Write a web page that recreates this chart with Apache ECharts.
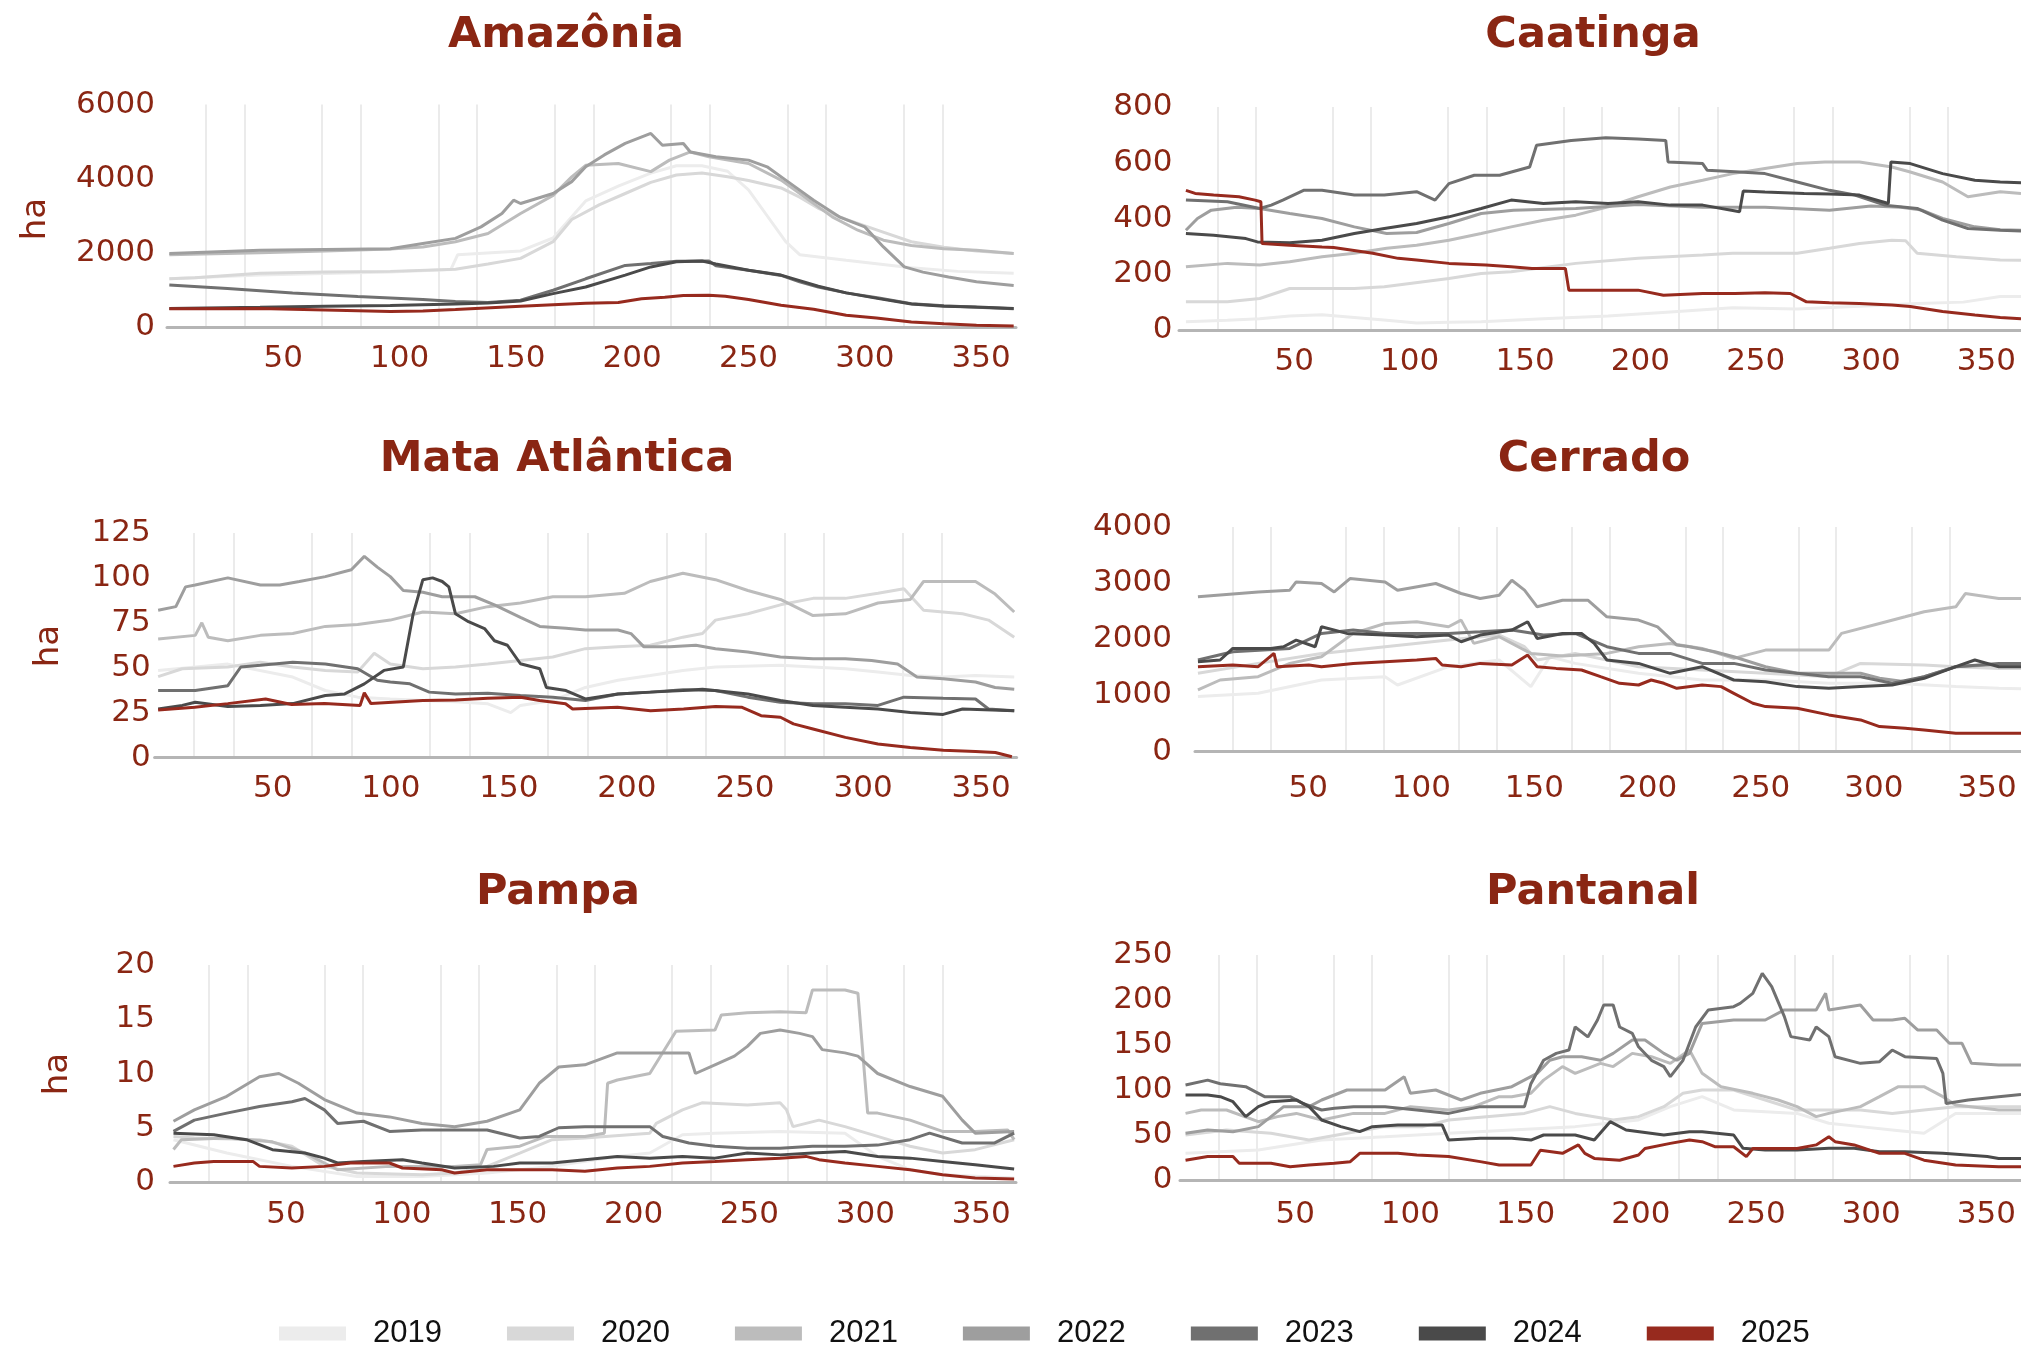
<!DOCTYPE html>
<html>
<head>
<meta charset="utf-8">
<title>Biomas</title>
<script src="https://cdn.jsdelivr.net/npm/echarts@6/dist/echarts.min.js"></script>
<style>
  html, body { margin: 0; padding: 0; background: #fff; }
  #chart { width: 2021px; height: 1350px; }
</style>
</head>
<body>
<div id="chart"></div>
<script>
// anos e cores
const years = ['2019', '2020', '2021', '2022', '2023', '2024', '2025'];
const yearColors = ['#ececec', '#d8d8d8', '#bcbcbc', '#9e9e9e', '#707070', '#4a4a4a', '#972a1e'];

// ---- Amazônia (ha) : [dia, valor]
const amz2019 = [[1,1300],[40,1400],[96,1480],[122,1550],[125,1950],[152,2050],[166,2400],[180,3400],[194,3800],[208,4150],[219,4350],[230,4350],[241,4200],[250,3700],[258,3000],[266,2300],[272,1950],[292,1800],[306,1700],[320,1600],[340,1500],[364,1450]];
const amz2020 = [[1,1300],[12,1330],[40,1450],[68,1480],[96,1500],[124,1560],[138,1700],[152,1850],[166,2300],[174,2900],[186,3300],[197,3600],[208,3900],[219,4100],[230,4150],[241,4050],[250,3950],[264,3750],[272,3500],[280,3200],[292,2900],[306,2600],[320,2300],[334,2150],[348,2050],[364,1980]];
const amz2021 = [[1,1950],[40,2000],[68,2050],[96,2100],[110,2160],[124,2300],[138,2520],[152,3060],[166,3550],[174,4050],[180,4360],[194,4410],[208,4190],[216,4500],[225,4720],[233,4590],[250,4410],[264,3960],[286,2970],[297,2610],[308,2340],[320,2200],[334,2110],[348,2070],[364,1980]];
const amz2022 = [[1,1980],[40,2070],[68,2090],[96,2110],[110,2250],[124,2390],[135,2700],[144,3060],[149,3420],[152,3330],[166,3600],[174,3920],[180,4320],[188,4640],[197,4950],[208,5220],[213,4900],[222,4950],[225,4720],[236,4590],[250,4500],[258,4320],[266,3960],[278,3420],[289,2970],[300,2700],[308,2160],[317,1620],[325,1480],[336,1350],[348,1220],[364,1120]];
const amz2023 = [[1,1130],[26,1040],[54,920],[82,820],[110,740],[124,690],[138,660],[152,720],[166,990],[180,1300],[197,1660],[208,1710],[219,1770],[233,1780],[236,1650],[250,1530],[264,1390],[272,1220],[280,1080],[292,920],[306,780],[320,630],[334,570],[348,530],[364,490]];
const amz2024 = [[1,500],[40,530],[68,560],[96,580],[124,620],[138,650],[152,700],[166,900],[180,1080],[197,1400],[208,1620],[219,1760],[230,1780],[236,1700],[250,1530],[264,1400],[272,1250],[280,1100],[292,920],[306,765],[320,620],[334,560],[348,540],[364,500]];
const amz2025 = [[1,495],[40,500],[68,460],[96,420],[110,430],[124,470],[152,560],[180,640],[194,660],[204,760],[214,800],[222,850],[233,855],[240,830],[250,740],[264,585],[278,480],[292,315],[305,240],[320,135],[334,90],[348,50],[364,30]];

// ---- Caatinga
const caa2019 = [[3,30],[21,35],[35,40],[48,50],[62,55],[76,45],[90,35],[103,25],[117,28],[131,30],[158,40],[186,50],[213,65],[240,80],[268,75],[295,85],[320,95],[340,100],[356,120],[365,120]];
const caa2020 = [[3,101],[21,101],[35,113],[48,149],[76,149],[89,155],[117,185],[131,203],[144,209],[172,239],[199,257],[227,269],[240,275],[268,275],[282,293],[295,310],[309,322],[315,320],[320,275],[337,263],[356,251],[365,250]];
const caa2021 = [[3,227],[21,239],[35,233],[48,245],[62,263],[76,275],[90,293],[103,304],[117,322],[131,346],[144,370],[158,394],[172,412],[186,442],[199,478],[213,513],[227,537],[240,561],[254,579],[268,597],[280,603],[295,603],[309,585],[317,567],[331,531],[342,478],[356,496],[365,490]];
const caa2022 = [[3,358],[8,400],[14,430],[25,440],[35,436],[48,418],[62,400],[76,370],[90,346],[103,350],[117,382],[131,418],[145,430],[172,436],[199,450],[227,440],[254,440],[282,430],[300,445],[313,440],[322,430],[331,400],[345,370],[356,360],[365,358]];
const caa2023 = [[3,466],[21,460],[35,436],[40,448],[45,466],[54,501],[62,501],[76,484],[89,484],[103,496],[111,466],[117,525],[128,555],[139,555],[152,585],[155,663],[170,680],[185,690],[199,685],[211,680],[212,603],[227,597],[229,573],[243,567],[254,561],[268,531],[282,501],[293,484],[306,448],[320,436],[331,394],[342,364],[356,358],[365,355]];
const caa2024 = [[3,346],[15,340],[29,328],[34,316],[48,313],[62,322],[76,346],[89,364],[103,382],[117,406],[131,436],[144,466],[158,454],[172,460],[186,454],[199,460],[213,448],[227,448],[243,424],[244.6,499],[254,495],[271,490],[282,488],[295,484],[307.5,454],[308.6,603],[317,597],[331,561],[345,537],[356,531],[365,528]];
const caa2025 = [[3,501],[7,490],[15,484],[26,478],[33,466],[35.5,460],[36,310],[48,304],[62,298],[67,296],[84,275],[95,257],[103,251],[117,239],[133,233],[144,227],[153,221],[167.5,221],[169,143],[183,143],[199,143],[210,125],[227,131],[241,131],[254,134],[265,131],[272,101],[282,98],[295,95],[309,90],[317,84],[331,66],[345,54],[356,45],[365,40]];

// ---- Mata Atlântica
const mat2019 = [[1.5,48.5],[31,52],[58.5,44.8],[72.3,37.3],[86,33.6],[99.8,32.6],[113.6,31.7],[127.4,31],[141.1,29.9],[150.8,25],[154.9,29],[168.6,31.7],[182.4,39],[196.2,43],[209.9,45.7],[223.7,48.5],[237.5,50.4],[265,51.3],[278.8,50.4],[292.5,49.4],[306.3,47.6],[320,45.7],[333.9,44.8],[347.6,45.7],[364,44.8]];
const mat2020 = [[1.5,45],[11.7,49.4],[31,50.4],[44.8,53],[58.5,50.4],[72.3,48.5],[86,47.6],[93,58],[99.8,52],[113.6,49.4],[127.4,50.4],[141.1,52],[154.9,54],[168.6,56],[182.4,60.6],[196.2,61.6],[209.9,62.5],[223.7,67],[232,69],[237.5,76.5],[251.2,80],[265,85],[278.8,88.6],[292.5,88.6],[306.3,91.4],[317.3,94],[325.6,82],[342.1,80],[353.1,76.5],[364,67]];
const mat2021 = [[1.5,66],[17.2,68],[20,75],[22.7,67],[31,65],[44.8,68],[58.5,69],[72.3,73],[86,74],[99.8,76.5],[113.6,81],[127.4,80],[141.1,84],[154.9,86],[168.6,89.5],[182.4,89.5],[198.9,91.4],[209.9,98],[223.7,102.6],[237.5,99],[251.2,93],[265,88],[278.8,79],[292.5,80],[306.3,86],[320,88],[325.6,98],[333.9,98],[347.6,98],[355.9,91],[364,81]];
const mat2022 = [[1.5,82],[9,84],[13.1,95],[17.2,96],[31,100],[44.8,96],[53,96],[61.3,98],[72.3,100.7],[83.3,104.5],[88.8,112],[94.3,106],[99.8,100.7],[105.3,93],[113.6,92],[121.8,89.5],[135.6,89.5],[143.9,85],[154.9,78],[163.1,73],[174.2,72],[182.4,71],[196.2,71],[201.7,69],[207.2,61.6],[218.2,61.6],[229.2,62.5],[237.5,60.6],[251.2,58.8],[265,56],[278.8,55],[292.5,55],[303.6,54],[314.6,52],[322.8,44.8],[333.9,43.8],[347.6,42],[355.9,39],[364,38]];
const mat2023 = [[1.5,37.3],[17.2,37.3],[31,40],[36.5,50.4],[44.8,51.3],[58.5,53],[72.3,52],[86,49.4],[94.3,43],[99.8,42],[108.1,41],[116.3,36.4],[127.4,35.4],[141.1,35.8],[154.9,34.5],[168.6,33.6],[182.4,31.7],[196.2,35.4],[209.9,36.4],[223.7,37.7],[237.5,37.3],[251.2,33.6],[265,30.8],[278.8,29.9],[292.5,29.9],[306.3,29],[317.3,33.6],[333.9,33],[347.6,32.6],[353.1,27],[364,26]];
const mat2024 = [[1.5,27],[11.7,29],[17.2,30.8],[31,28.4],[44.8,29],[58.5,30],[72.3,34.5],[80.5,35.4],[88.8,41],[97.1,48.5],[105.3,50.4],[109.5,80],[113.6,99],[117.7,100],[121.8,98],[124.6,95],[127.4,80],[132.9,75.6],[139.7,71.8],[143.9,65],[149.4,62.5],[154.9,52.2],[163.1,49.4],[165.9,39],[174.2,37.3],[182.4,32.6],[196.2,35.4],[209.9,36.4],[223.7,37.3],[232,38],[251.2,35.4],[265,31.7],[278.8,29],[292.5,28],[306.3,27],[320,25],[333.9,24],[342.1,27],[364,26]];
const mat2025 = [[1.5,26.5],[17,28],[31,30],[47,32.6],[58,29.5],[72,30],[87,29],[88.8,36],[91.6,30],[113.6,31.7],[127.4,32],[141,33],[155,33.6],[163,31.7],[174,29.9],[177,27],[196,28],[210,26],[224,27],[237.5,28.4],[248.5,28],[256.8,23.3],[265,22.4],[270.5,18.7],[278.8,15.9],[292.5,11.2],[306.3,7.5],[320,5.6],[334,4.1],[347.6,3.4],[356,2.8],[363,0.4]];

// ---- Cerrado
const cer2019 = [[1.3,978],[27.9,1037],[55.9,1274],[84,1333],[89.5,1185],[112,1511],[134.4,1630],[148.4,1156],[156.8,1689],[168,1570],[196,1393],[224.1,1274],[252.1,1274],[280.1,1215],[308.1,1215],[336.2,1156],[355.2,1126],[365,1120]];
const cer2020 = [[1.3,1393],[27.9,1570],[55.9,1748],[84,1867],[112,1985],[134.4,2074],[145.6,1867],[151.2,1630],[168,1748],[196,1511],[224.1,1452],[252.1,1393],[280.1,1333],[294.1,1570],[322.2,1541],[336.2,1511],[355.2,1481],[365,1481]];
const cer2021 = [[1.3,1096],[11.1,1274],[27.9,1333],[41.9,1570],[55.9,1689],[69.9,2104],[84,2281],[98,2311],[112,2222],[117.6,2341],[123.2,1926],[134.4,2044],[148.4,1748],[162.4,1700],[182,1748],[196,1867],[210,1926],[224.1,1837],[238.1,1659],[252.1,1807],[280.1,1807],[285.7,2104],[302.5,2281],[313.8,2400],[322.2,2489],[336.2,2578],[340.4,2815],[355.2,2726],[365,2726]];
const cer2022 = [[1.3,2756],[27.9,2844],[41.9,2874],[44.7,3022],[55.9,2993],[61.5,2844],[68.5,3081],[84,3022],[89.5,2874],[106.4,2993],[117.6,2815],[126,2726],[134.4,2785],[140,3052],[145.6,2874],[151.2,2578],[162.4,2696],[173.6,2696],[182,2400],[196,2341],[204.4,2222],[212.9,1896],[218.5,1867],[229.7,1778],[238.1,1689],[252.1,1511],[266.1,1393],[294.1,1393],[302.5,1304],[313.8,1244],[322.2,1333],[336.2,1511],[355.2,1550],[365,1550]];
const cer2023 = [[1.3,1630],[16.7,1778],[41.9,1837],[55.9,2104],[69.9,2163],[84,2104],[112,2104],[126,2133],[140,2163],[154,2074],[168,2104],[182,1867],[196,1748],[210,1748],[224.1,1570],[238.1,1570],[252.1,1452],[266.1,1393],[280.1,1333],[294.1,1333],[308.1,1215],[322.2,1333],[336.2,1511],[355.2,1570],[365,1570]];
const cer2024 = [[1.3,1600],[11.1,1630],[16.7,1837],[33.5,1837],[39.1,1867],[44.7,1985],[53.1,1867],[55.9,2222],[67.1,2104],[84,2074],[98,2044],[112,2074],[117.6,1956],[126,2074],[140,2163],[147,2311],[151.2,2015],[162.4,2104],[170.8,2104],[176.4,1926],[182,1630],[196,1570],[210,1393],[224.1,1511],[238.1,1274],[252.1,1244],[266.1,1156],[280.1,1126],[294.1,1156],[308.1,1185],[322.2,1304],[336.2,1511],[344.6,1630],[355.2,1511],[365,1511]];
const cer2025 = [[1.3,1511],[16.7,1541],[27.9,1511],[34.9,1748],[36.3,1511],[50.3,1541],[55.9,1511],[69.9,1570],[84,1600],[98,1630],[106.4,1659],[109.2,1541],[117.6,1511],[126,1570],[140,1541],[147,1718],[151.2,1511],[159.6,1481],[170.8,1452],[179.2,1333],[187.6,1215],[196,1185],[201.6,1274],[207.2,1215],[212.9,1126],[224.1,1185],[232.5,1156],[238.1,1037],[246.5,859],[252.1,800],[266.1,770],[280.1,652],[294.1,563],[302.5,444],[313.8,415],[322.2,385],[336.2,326],[355.2,326],[365,326]];

// ---- Pampa
const pam2019 = [[1.5,3.9],[24.5,2.67],[52.6,1.44],[80.7,0.5],[108.7,0.5],[136.8,0.83],[164.9,1.44],[193,2.36],[207,2.67],[221.1,4.36],[235.1,4.5],[263.2,4.66],[291.2,4.5],[305.3,2.36],[319.3,1.13],[333.3,0.67],[364.2,0.37]];
const pam2020 = [[1.5,4.2],[10.5,4.05],[38.6,3.9],[52.6,3.3],[66.6,1.44],[80.7,0.83],[108.7,0.67],[122.8,0.83],[136.8,1.44],[150.9,2.67],[164.9,3.9],[179,4.05],[207,4.5],[209.8,5.4],[221.1,6.65],[229.5,7.3],[249.1,7.1],[263.2,7.3],[266,6.65],[268.8,5.1],[280,5.7],[291.2,5.1],[305.3,4.2],[319.3,3.3],[333.3,2.67],[347.4,2.98],[364.2,3.9]];
const pam2021 = [[1.5,3],[4.9,3.9],[24.5,4.05],[44.2,3.7],[58.2,2.67],[72.3,1.13],[94.7,1.44],[122.8,1.44],[134,1.6],[136.8,3],[150.9,3.3],[162.1,4.2],[179,4.2],[187.4,4.5],[188.8,9.1],[193,9.4],[207,10],[218.3,13.9],[235.1,14],[237.9,15.4],[249.1,15.6],[263.2,15.7],[274.4,15.6],[277.2,17.7],[291.2,17.7],[296.8,17.4],[301,6.35],[305.3,6.35],[319.3,5.7],[333.3,4.66],[347.4,4.66],[361.4,4.8],[364.2,3.9]];
const pam2022 = [[1.5,5.6],[10.5,6.65],[24.5,7.9],[38.6,9.7],[47,10],[55.4,9.1],[66.6,7.6],[80.7,6.35],[94.7,6],[108.7,5.4],[122.8,5.1],[136.8,5.6],[150.9,6.65],[159.3,9.1],[167.7,10.6],[179,10.8],[193,11.9],[223.9,11.9],[226.7,10],[235.1,10.8],[243.5,11.6],[249.1,12.5],[254.7,13.7],[263.2,14],[271.6,13.7],[277.2,13.4],[281.4,12.2],[291.2,11.9],[296.8,11.6],[305.3,10],[319.3,8.8],[333.3,7.9],[341.8,5.7],[347.4,4.5],[364.2,4.66]];
const pam2023 = [[1.5,4.66],[10.5,5.7],[24.5,6.35],[38.6,6.96],[52.6,7.4],[58.2,7.7],[66.6,6.65],[72.3,5.4],[83.5,5.6],[94.7,4.66],[108.7,4.8],[136.8,4.8],[150.9,4.05],[159.3,4.2],[167.7,5],[179,5.1],[207,5.1],[212.6,4.2],[223.9,3.6],[235.1,3.3],[249.1,3.1],[263.2,3.1],[277.2,3.3],[291.2,3.3],[305.3,3.4],[319.3,3.9],[327.7,4.5],[341.8,3.6],[355.8,3.6],[364.2,4.5]];
const pam2024 = [[1.5,4.5],[18.9,4.36],[33,3.9],[44.2,2.98],[58.2,2.67],[66.6,2.2],[72.3,1.75],[83.5,1.9],[100.3,2.06],[108.7,1.75],[122.8,1.29],[139.6,1.44],[150.9,1.75],[164.9,1.75],[179,2.06],[193,2.36],[207,2.2],[221.1,2.36],[235.1,2.2],[249.1,2.67],[263.2,2.5],[277.2,2.67],[291.2,2.82],[305.3,2.36],[319.3,2.2],[333.3,1.9],[347.4,1.6],[364.2,1.2]];
const pam2025 = [[1.5,1.44],[10.5,1.75],[18.9,1.9],[35.8,1.9],[38.6,1.44],[52.6,1.29],[66.6,1.44],[77.9,1.75],[94.7,1.75],[100.3,1.29],[117.2,1.13],[122.8,0.83],[136.8,1.13],[164.9,1.13],[179,0.98],[193,1.29],[207,1.44],[221.1,1.75],[235.1,1.9],[249.1,2.06],[263.2,2.2],[274.4,2.36],[280,2.06],[291.2,1.75],[305.3,1.44],[319.3,1.13],[333.3,0.67],[347.4,0.37],[364.2,0.28]];

// ---- Pantanal
const pan2019 = [[2.4,29.6],[34,33.3],[61.5,44.4],[89,48],[116.6,51.9],[144,55.6],[171.5,59.3],[199,66.7],[212.8,81.5],[226.6,92.6],[240.3,77.8],[267.8,74],[281.6,63],[295.3,59.3],[309.1,55.6],[322.9,51.9],[336.6,74],[355.3,74],[365,74]];
const pan2020 = [[2.4,50],[20.2,55.6],[39.5,51.9],[56,44.4],[72.5,51.9],[89,59.3],[105.5,59.3],[116.6,66.7],[133,70.4],[149.5,74],[160.5,81.5],[171.5,74],[188,66.7],[199,70.4],[210,81.5],[218.3,96.3],[226.6,100],[240.3,100],[254,88.9],[267.8,77.8],[281.6,77.8],[295.3,77.8],[309.1,74],[322.9,77.8],[336.6,81.5],[355.3,81.5],[365,81.5]];
const pan2021 = [[2.4,74],[9.2,77.8],[20.2,77.8],[34,64.8],[42.3,70.4],[50.5,74],[61.5,66.7],[75.3,74],[89,74],[100,81.5],[116.6,77.8],[127.5,81.5],[138.5,92.6],[144,92.6],[152.3,96.3],[157.8,111],[166,126],[171.5,118.5],[182.5,129.6],[188,126],[196.3,140.7],[204.6,137],[212.8,129.6],[221.1,144.4],[226.6,118.5],[234.8,103.7],[248.6,96.3],[259.6,88.9],[267.8,81.5],[276.1,70.4],[281.6,74],[295.3,81.5],[303.6,92.6],[311.8,103.7],[322.9,103.7],[331.1,92.6],[336.6,83.3],[355.3,77.8],[365,77.8]];
const pan2022 = [[2.4,51.9],[12,55.6],[23,53.7],[34,59.3],[45,81.5],[56,81.5],[61.5,88.9],[72.5,100],[89,100],[97.3,114.8],[100,96.3],[111,100],[122,88.9],[130.3,96.3],[144,103.7],[155,118.5],[160.5,133],[166,137],[174.3,137],[182.5,133],[188,140.7],[196.3,155.6],[201.8,155.6],[210,140.7],[215.6,133],[221.1,140.7],[226.6,174],[240.3,177.8],[254,177.8],[262.3,189],[276.1,189],[280.2,207.4],[281.6,189],[295.3,194.4],[300.8,177.8],[309.1,177.8],[314.6,179.6],[320.1,166.7],[328.4,166.7],[333.9,151.9],[339.4,151.9],[343.5,129.6],[355.3,127.8],[365,127.8]];
const pan2023 = [[2.4,105.6],[12,111],[17.5,107],[28.5,103.7],[36.7,92.6],[47.8,92.6],[53.3,85],[61.5,77.8],[67,79.6],[75.3,81.5],[89,81.5],[102.8,77.8],[116.6,74],[130.3,81.5],[149.5,81.5],[152.3,107],[157.8,133],[163.3,140.7],[168.8,144.4],[171.5,170],[177,159],[181.2,177.8],[183.9,194.4],[188,194.4],[190.8,170],[196.3,163],[199,148],[204.6,133],[210,126],[212.8,114.8],[218.3,133],[223.8,170],[229.3,189],[240.3,192.6],[243.1,196.3],[248.6,207.4],[252.7,229.6],[256.8,214.8],[262.3,181.5],[265.1,159.3],[273.3,155.6],[276.1,170],[281.6,159.3],[284.3,137],[295.3,129.6],[303.6,131.5],[309.1,144.4],[314.6,137],[328.4,135],[331.1,118.5],[332.5,85],[342.1,89],[355.3,92.6],[365,95]];
const pan2024 = [[2.4,94.4],[12,94.4],[17.5,92.6],[23,87],[28.5,70.4],[34,81.5],[39.5,87],[50.5,89],[56,81.5],[61.5,66.7],[69.8,59.3],[78,53.7],[83.5,59.3],[94.5,61],[113.8,61],[116.6,44.4],[130.3,46.3],[144,46.3],[152.3,44.4],[157.8,50],[171.5,50],[179.8,44.4],[186.7,64.8],[193.6,55.6],[210,50],[221.1,53.7],[226.6,53.7],[240.3,50],[244.4,35.2],[254,33.3],[267.8,33.3],[281.6,35.2],[292.6,35.2],[303.6,31.5],[314.6,31.5],[331.1,29.6],[350.4,26],[355.3,24],[365,24]];
const pan2025 = [[2.4,22],[12,26],[23,26],[25.7,18.5],[39.5,18.5],[47.8,14.8],[56,16.7],[67,18.5],[73.9,20.4],[78,29.6],[94.5,29.6],[102.8,27.8],[116.6,26],[130.3,20.4],[138.5,16.7],[152.3,16.7],[156.4,33],[166,29.6],[172.9,39],[175.7,29.6],[179.8,24],[190.8,22],[199,27.8],[201.8,35],[212.8,40.7],[221.1,44.4],[226.6,42.6],[232.1,37],[240.3,37],[245.8,26],[248.6,35],[267.8,35],[276.1,39],[281.6,48],[284.3,42.6],[292.6,39],[303.6,29.6],[314.6,29.6],[322.9,22],[336.6,16.7],[355.3,14.8],[365,14.8]];

// layout of the six small charts (pixels)
const panels = [
  { name: 'Amazônia', lines: [amz2019, amz2020, amz2021, amz2022, amz2023, amz2024, amz2025],
    left: 167, top: 104.5, width: 849, height: 222.5, yMax: 6000, yStep: 2000,
    axisOffset: 7, yMargin: 12, xMargin: 9, titleX: 566, titleTop: 14, ha: [36, 219] },
  { name: 'Caatinga', lines: [caa2019, caa2020, caa2021, caa2022, caa2023, caa2024, caa2025],
    left: 1179, top: 107, width: 861.5, height: 223, yMax: 800, yStep: 200,
    axisOffset: 3, yMargin: 6.5, xMargin: 13.5, titleX: 1593, titleTop: 14 },
  { name: 'Mata Atlântica', lines: [mat2019, mat2020, mat2021, mat2022, mat2023, mat2024, mat2025],
    left: 154.6, top: 533, width: 862, height: 224.5, yMax: 125, yStep: 25,
    axisOffset: 0.5, yMargin: 4, xMargin: 15.5, titleX: 557, titleTop: 438, ha: [49, 646] },
  { name: 'Cerrado', lines: [cer2019, cer2020, cer2021, cer2022, cer2023, cer2024, cer2025],
    left: 1195, top: 527, width: 848, height: 224.5, yMax: 4000, yStep: 1000,
    axisOffset: 6.5, yMargin: 23, xMargin: 15.5, titleX: 1594, titleTop: 438 },
  { name: 'Pampa', lines: [pam2019, pam2020, pam2021, pam2022, pam2023, pam2024, pam2025],
    left: 170, top: 965, width: 846, height: 217, yMax: 20, yStep: 5,
    axisOffset: 1, yMargin: 15, xMargin: 16.5, titleX: 558, titleTop: 871, ha: [58, 1074] },
  { name: 'Pantanal', lines: [pan2019, pan2020, pan2021, pan2022, pan2023, pan2024, pan2025],
    left: 1180, top: 955, width: 864, height: 225, yMax: 250, yStep: 50,
    axisOffset: 3, yMargin: 7.5, xMargin: 16.5, titleX: 1593, titleTop: 871 }
];

const red = '#8a2613';
const axisFont = 'DejaVu Sans';

var myChart = echarts.init(document.getElementById('chart'), null, { renderer: 'canvas' });

var series = [];
panels.forEach(function (p, i) {
  p.lines.forEach(function (d, k) {
    series.push({
      name: years[k],
      type: 'line',
      xAxisIndex: i,
      yAxisIndex: i,
      data: d,
      showSymbol: false,
      symbol: 'none',
      color: yearColors[k],
      lineStyle: { width: 3, color: yearColors[k] },
      emphasis: { disabled: true },
      z: 2 + k
    });
  });
});

var option = {
  animation: false,
  backgroundColor: '#fff',
  title: panels.map(function (p) {
    return {
      text: p.name,
      left: p.titleX,
      top: p.titleTop,
      textAlign: 'center',
      padding: 0,
      textStyle: { fontSize: 43, fontWeight: 'bold', color: red, fontFamily: axisFont }
    };
  }),
  legend: {
    data: years,
    left: 279,
    top: 1318,
    padding: 0,
    icon: 'rect',
    itemWidth: 67,
    itemHeight: 14,
    itemGap: 65,
    selectedMode: false,
    textStyle: { fontSize: 31, fontFamily: 'Liberation Sans', color: '#111', padding: [0, 0, 0, 22] }
  },
  grid: panels.map(function (p) {
    return { left: p.left, top: p.top, width: p.width, height: p.height, containLabel: false };
  }),
  xAxis: panels.map(function (p, i) {
    return {
      gridIndex: i,
      type: 'value',
      min: 0,
      max: 365,
      interval: 50 / 3,
      offset: p.axisOffset,
      axisLine: { show: true, lineStyle: { color: '#b5b5b5', width: 3 } },
      axisTick: { show: false },
      axisLabel: {
        color: red,
        fontSize: 31,
        fontFamily: axisFont,
        margin: p.xMargin,
        showMinLabel: false,
        showMaxLabel: false,
        formatter: function (v) {
          var n = Math.round(v);
          return (Math.abs(v - n) < 1e-6 && n > 0 && n % 50 === 0 && n < 365) ? String(n) : '';
        }
      },
      // vertical grid every 50/3 days, the ones on multiples of 50 hidden
      splitLine: {
        show: true,
        showMaxLine: false,
        lineStyle: { color: ['rgba(0,0,0,0)', '#e4e4e4', '#e4e4e4'], width: 1.5 }
      }
    };
  }),
  yAxis: panels.map(function (p, i) {
    return {
      gridIndex: i,
      type: 'value',
      min: 0,
      max: p.yMax,
      interval: p.yStep,
      axisLine: { show: false },
      axisTick: { show: false },
      splitLine: { show: false },
      axisLabel: {
        color: red, fontSize: 31, fontFamily: axisFont, margin: p.yMargin,
        formatter: function (v) { return String(v); }
      }
    };
  }),
  graphic: panels.filter(function (p) { return p.ha; }).map(function (p) {
    return {
      type: 'text',
      x: p.ha[0],
      y: p.ha[1],
      rotation: Math.PI / 2,
      silent: true,
      style: {
        text: 'ha',
        fill: red,
        font: '34px "DejaVu Sans"',
        align: 'center',
        verticalAlign: 'middle',
        textAlign: 'center',
        textVerticalAlign: 'middle'
      }
    };
  }),
  series: series
};

myChart.setOption(option);
window.addEventListener('resize', function () { myChart.resize(); });
</script>
</body>
</html>
